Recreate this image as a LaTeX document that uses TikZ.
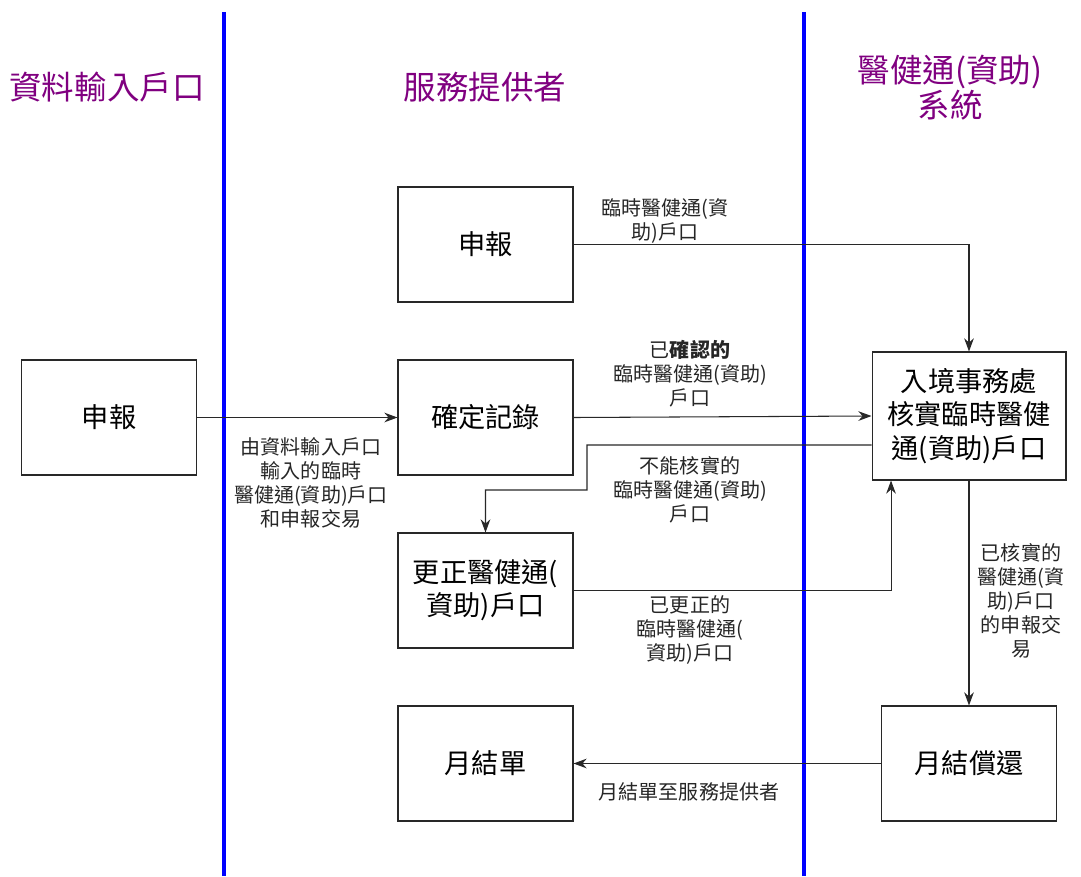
\documentclass[tikz,border=0pt]{standalone}
\usepackage{fontspec}
\setmainfont{Noto Sans CJK TC}
\usetikzlibrary{arrows.meta}

\definecolor{lanepurple}{RGB}{128,0,128}
\definecolor{laneblue}{RGB}{0,0,255}
\definecolor{flowgray}{RGB}{40,40,40}

\begin{document}
\begin{tikzpicture}[
  x=0.02cm, y=-0.02cm,
  >={Stealth[length=7.5pt,width=5.5pt]},
  stepbox/.style={draw=flowgray, line width=0.6pt, minimum width=3.5cm,
    minimum height=2.3cm, align=center, font=\fontsize{15.5}{19}\selectfont},
  flow/.style={->, draw=flowgray, line width=0.6pt},
  flowlabel/.style={align=center, text=black!85, font=\fontsize{11.4}{13.7}\selectfont},
  lanetitle/.style={text=lanepurple, align=center, font=\fontsize{18.5}{20}\selectfont},
  laneline/.style={draw=laneblue, line width=2.8pt}
]
  \useasboundingbox (0,0) rectangle (1081,876);

  % Swim lane dividers
  \draw[laneline] (224,12) -- (224,876);
  \draw[laneline] (804,12) -- (804,876);

  % Lane titles
  \node[lanetitle] (titleA) at (107,87) {資料輸入戶口};
  \node[lanetitle] (titleB) at (485,87) {服務提供者};
  \node[lanetitle] (titleC) at (950,88) {醫健通(資助)\\系統};

  % Boxes
  \node[stepbox] (appL) at (109,417.5) {申報};
  \node[stepbox] (appS) at (485.5,244.5) {申報};
  \node[stepbox] (confirm) at (485.5,417.5) {確定記錄};
  \node[stepbox] (fix) at (485.5,590.5) {更正醫健通(\\資助)戶口};
  \node[stepbox] (stmt) at (485.5,763.5) {月結單};
  \node[stepbox, minimum width=3.88cm, minimum height=2.56cm] (imm) at (969,416)
    {入境事務處\\核實臨時醫健\\通(資助)戶口};
  \node[stepbox] (repay) at (969,763.5) {月結償還};

  % Connectors
  \draw[flow] (appS.east) -| (imm.north);
  \draw[flow] (appL.east) -- (confirm.west);
  \draw[flow] (confirm.east) -- (imm.west);
  \draw[flow] ([yshift=-0.58cm]imm.west) -- (587,445) -- (587,490) -| (fix.north);
  \draw[flow] (fix.east) -| ([xshift=-1.56cm]imm.south);
  \draw[flow] (imm.south) -- (repay.north);
  \draw[flow] (repay.west) -- (stmt.east);

  % Connector labels
  \node[flowlabel] (lblA) at (665,221) {臨時醫健通(資\\助)戶口};
  \node[flowlabel] (lblB) at (311,483) {由資料輸入戶口\\輸入的臨時\\醫健通(資助)戶口\\和申報交易};
  \node[flowlabel] (lblC) at (690,374) {已\textbf{確認的}\\臨時醫健通(資助)\\戶口};
  \node[flowlabel] (lblD) at (690,490) {不能核實的\\臨時醫健通(資助)\\戶口};
  \node[flowlabel] (lblE) at (690,630) {已更正的\\臨時醫健通(\\資助)戶口};
  \node[flowlabel] (lblF) at (1021,601) {已核實的\\醫健通(資\\助)戶口\\的申報交\\易};
  \node[flowlabel] (lblG) at (689,792) {月結單至服務提供者};
\end{tikzpicture}
\end{document}
